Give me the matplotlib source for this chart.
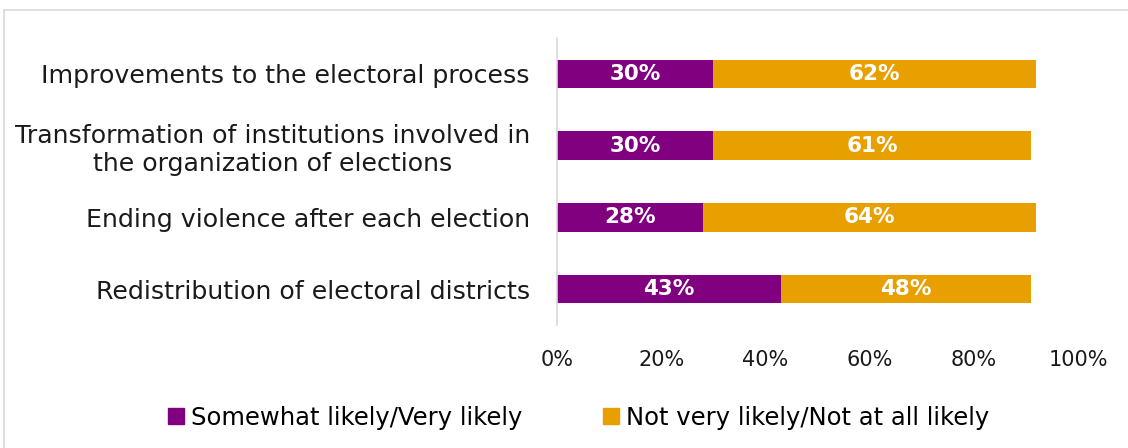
import numpy as np
import matplotlib.pyplot as plt
from matplotlib.lines import Line2D
from matplotlib.patches import Patch

categories = [
    "Improvements to the electoral process",
    "Transformation of institutions involved in\nthe organization of elections",
    "Ending violence after each election",
    "Redistribution of electoral districts",
]
likely = [30, 30, 28, 43]
not_likely = [62, 61, 64, 48]
series_names = ["Somewhat likely/Very likely", "Not very likely/Not at all likely"]
xticks = [0, 20, 40, 60, 80, 100]

purple = "#800080"
orange = "#E8A000"
grid_gray = "#D9D9D9"

plt.rcParams['font.family'] = ['DejaVu Sans']

fig = plt.figure(figsize=(11.28, 4.48), dpi=100)
ax = fig.add_axes([0.4938, 0.2746, 0.4619, 0.6404])

y = np.arange(len(categories))
h = 0.4
b1 = ax.barh(y, likely, height=h, color=purple)
b2 = ax.barh(y, not_likely, left=likely, height=h, color=orange)

for bars, vals, lefts in [(b1, likely, [0] * 4), (b2, not_likely, likely)]:
    for yi, v, l in zip(y, vals, lefts):
        ax.text(l + v / 2, yi, f"{v}%", ha='center', va='center',
                color='white', fontsize=15.5, fontweight='bold')

ax.set_xlim(0, 100)
ax.set_ylim(3.5, -0.5)
ax.set_xticks(xticks)
ax.set_xticklabels([f"{t}%" for t in xticks], fontsize=15, color='#1a1a1a')
ax.set_yticks(y)
ax.set_yticklabels(categories, fontsize=18.2, color='#1a1a1a', multialignment='center')
ax.tick_params(axis='both', length=0)
ax.tick_params(axis='x', pad=18)
ax.tick_params(axis='y', pad=19.5)

for s in ['top', 'right', 'bottom']:
    ax.spines[s].set_visible(False)
ax.spines['left'].set_color(grid_gray)
ax.spines['left'].set_linewidth(1.2)

handles = [Patch(color=purple), Patch(color=orange)]
fig.legend(handles, series_names, loc='center', bbox_to_anchor=(0.513, 0.068),
           ncol=2, frameon=False, fontsize=17.5, handlelength=0.65, handleheight=0.65,
           handletextpad=0.3, columnspacing=3.3)

# outer frame (top and left edges visible)
fig.add_artist(Line2D([4 / 1128, 1], [1 - 10 / 448, 1 - 10 / 448],
                      transform=fig.transFigure, color=grid_gray, lw=1.2))
fig.add_artist(Line2D([4 / 1128, 4 / 1128], [0, 1 - 10 / 448],
                      transform=fig.transFigure, color=grid_gray, lw=1.2))

fig.savefig("out.png", dpi=100)
